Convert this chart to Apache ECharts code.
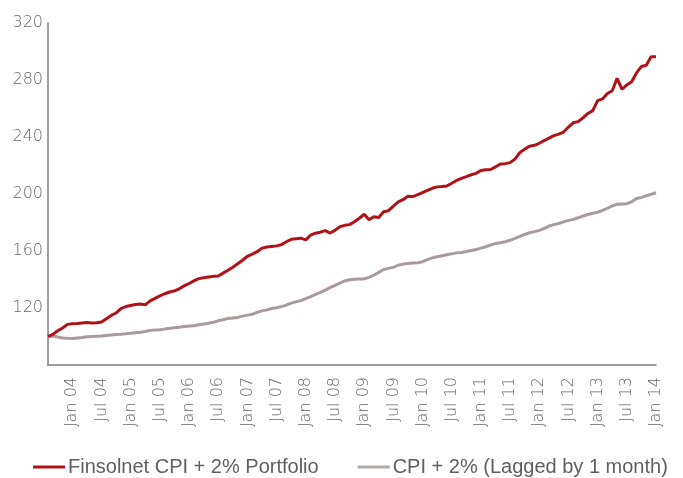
<!DOCTYPE html>
<html>
<head>
<meta charset="utf-8">
<script src="https://cdn.jsdelivr.net/npm/echarts@6/dist/echarts.min.js"></script>
<style>
html,body{margin:0;padding:0;background:#fff;}
#chart{width:683px;height:478px;}
</style>
</head>
<body>
<div id="chart"></div>
<script>
// Monthly categories from Aug 2003 to Jan 2014
var monthNames = ['Jan','Feb','Mar','Apr','May','Jun','Jul','Aug','Sep','Oct','Nov','Dec'];
var categories = [];
(function(){
  var y = 2003, m = 7;
  while (y < 2014 || (y === 2014 && m === 0)) {
    categories.push(monthNames[m] + ' ' + String(y % 100).padStart(2, '0'));
    m++; if (m === 12) { m = 0; y++; }
  }
})();

var seriesNames = ['Finsolnet CPI + 2% Portfolio', 'CPI + 2% (Lagged by 1 month)'];

var portfolio = [
  100, 101.5, 104, 106, 108.5,
  109, 109.2, 109.5, 109.8, 109.4, 109.6,
  110.2, 112.5, 114.8, 116.5, 119.5, 121,
  121.8, 122.5, 122.8, 122.2, 125, 126.8,
  128.5, 130, 131.2, 132, 133.5, 135.5,
  137.2, 139, 140.6, 141.2, 141.8, 142.2,
  142.5, 144.5, 146.5, 148.6, 151, 153.5,
  156.3, 157.8, 159.5, 162, 162.8, 163.2,
  163.6, 164.5, 166.5, 168.2, 168.6, 169,
  167.8, 171.2, 172.5, 173.2, 174.3, 172.6,
  174.5, 177, 178, 178.5, 180.5, 183,
  185.8, 182, 184, 183.5, 187.5, 188.3,
  191.5, 194.5, 196, 198.5, 198.2, 199.5,
  201, 202.5, 204, 205, 205.2, 205.6,
  207.5, 209.5, 211, 212.2, 213.5, 214.5,
  216.5, 217, 217.2, 219, 221, 221.3,
  222, 224.5, 229, 231.5, 233.5, 234.2,
  235.6, 237.5, 239.2, 241, 242, 243.5,
  247, 250, 250.8, 253.5, 256.5, 258.5,
  265.5, 266.7, 270.5, 272.5, 281.2, 273.5,
  276.5, 278.8, 285, 289.5, 290.3, 296.4,
  296.4
];

var cpiPlus2 = [
  100, 100.3, 99.6, 99, 98.7,
  98.6, 98.9, 99.3, 99.8, 100, 100.2,
  100.4, 100.7, 101, 101.4, 101.6, 101.9,
  102.3, 102.6, 103, 103.5, 104.3, 104.6,
  104.8, 105.2, 105.8, 106.2, 106.5, 107,
  107.3, 107.6, 108.2, 108.7, 109.3, 110,
  111, 111.8, 112.7, 113, 113.4, 114.3,
  115, 115.6, 116.9, 118, 118.7, 119.6,
  120.2, 121, 122, 123.4, 124.3, 125.2,
  126.6, 128, 129.5, 131, 132.5, 134.3,
  135.9, 137.5, 139, 139.8, 140.2, 140.3,
  140.4, 141.5, 143, 145, 147, 147.8,
  148.5, 150, 150.8, 151.2, 151.5, 151.8,
  152.5, 154, 155.2, 156, 156.7, 157.4,
  158, 158.7, 159, 159.6, 160.3, 161,
  162, 163, 164.2, 165.2, 165.8, 166.5,
  167.5, 168.8, 170.2, 171.6, 172.8, 173.6,
  174.5, 175.8, 177.5, 178.5, 179.3, 180.4,
  181.5, 182.2, 183.3, 184.6, 185.6, 186.5,
  187.2, 188.5, 190, 191.6, 192.8, 193,
  193.2, 194.5, 196.8, 197.6, 198.8, 199.8,
  200.9
];

var yTicks = [80, 120, 160, 200, 240, 280, 320];

var chart = echarts.init(document.getElementById('chart'), null, {renderer: 'canvas'});
chart.setOption({
  animation: false,
  backgroundColor: '#ffffff',
  grid: {left: 48, right: 27, top: 23, bottom: 113, containLabel: false},
  legend: {
    left: 28,
    top: 452,
    itemWidth: 32,
    itemHeight: 3,
    itemGap: 39,
    icon: 'rect',
    textStyle: {fontFamily: 'Liberation Sans', fontSize: 20, color: '#5f5f5f', padding: [0, 0, 0, -2]},
    data: seriesNames
  },
  xAxis: {
    type: 'category',
    data: categories,
    boundaryGap: false,
    axisLine: {show: true, lineStyle: {color: '#808080', width: 1.5}},
    axisTick: {show: false},
    splitLine: {show: false},
    axisLabel: {
      rotate: 90,
      margin: 12,
      fontFamily: 'DejaVu Sans',
      fontWeight: 200,
      fontSize: 16,
      color: '#666666',
      interval: function (idx, val) { return val.indexOf('Jan') === 0 || val.indexOf('Jul') === 0; }
    }
  },
  yAxis: {
    type: 'value',
    min: yTicks[0],
    max: yTicks[yTicks.length - 1],
    interval: 40,
    axisLine: {show: true, lineStyle: {color: '#808080', width: 1.5}},
    axisTick: {show: false},
    splitLine: {show: false},
    axisLabel: {
      showMinLabel: false,
      margin: 5,
      fontFamily: 'DejaVu Sans',
      fontWeight: 200,
      fontSize: 16,
      color: '#666666'
    }
  },
  series: [
    {
      name: seriesNames[0],
      type: 'line',
      data: portfolio,
      symbol: 'none',
      lineStyle: {color: '#b01218', width: 3},
      itemStyle: {color: '#b01218'},
      z: 3
    },
    {
      name: seriesNames[1],
      type: 'line',
      data: cpiPlus2,
      symbol: 'none',
      lineStyle: {color: '#a99b9b', width: 3},
      itemStyle: {color: '#b5a8a8'},
      z: 2
    }
  ]
});
</script>
</body>
</html>
